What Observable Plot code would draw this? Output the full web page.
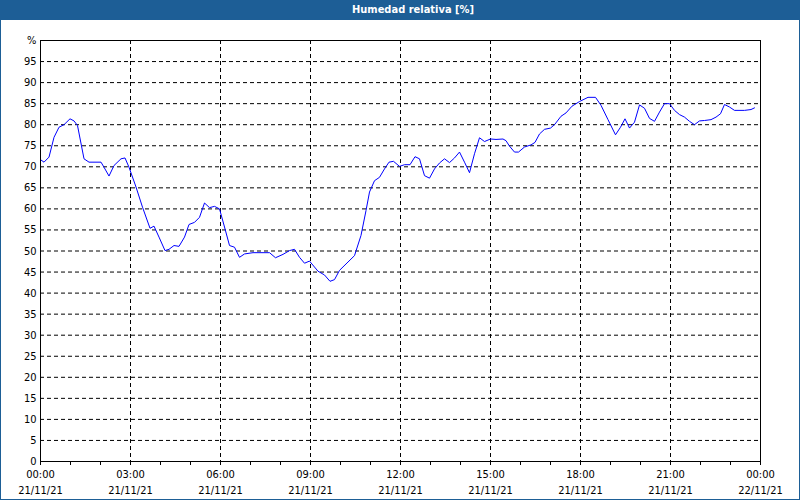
<!DOCTYPE html>
<html>
<head>
<meta charset="utf-8">
<script src="https://cdn.jsdelivr.net/npm/d3@7"></script>
<script src="https://cdn.jsdelivr.net/npm/@observablehq/plot@0.6"></script>
<style>
  html, body { margin: 0; padding: 0; background: #fff; }
  #wrap { position: relative; width: 800px; height: 500px; overflow: hidden; background: #fff; }
  #title { position: absolute; left: 0; top: 0; width: 800px; height: 20px; background: #1d5e96;
    color: #fff; font: bold 11px "DejaVu Sans Condensed", "DejaVu Sans", sans-serif;
    line-height: 20px; text-align: center; text-indent: 26px; }
  #chart { position: absolute; left: 0; top: 20px; }
  #border { position: absolute; left: 0; top: 20px; width: 800px; height: 480px; box-sizing: border-box;
    border: 1px solid #1d5e96; border-top: none; pointer-events: none; }
</style>
</head>
<body>
<div id="wrap">
  <div id="title">Humedad relativa [%]</div>
  <div id="chart"></div>
  <div id="border"></div>
</div>
<script>
// Time in minutes after 00:00 on 21/11/21
const minutes = [0,7,17,27,37,47,59,67,74,87,97,121,127,137,147,161,169,177,191,204,219,227,237,249,257,267,277,
  288,297,308,318,328,338,348,358,368,378,388,398,408,425,458,470,485,498,508,518,528,538,555,568,579,588,598,
  628,641,651,658,668,678,688,697,706,718,728,739,749,758,768,778,788,798,808,818,828,838,848,858,
  868,878,888,900,911,925,931,938,948,956,968,981,989,998,1008,1020,1028,1041,1051,1063,1078,1095,1110,1121,1135,
  1150,1160,1169,1178,1188,1198,1208,1218,1228,1238,1248,1258,1268,1278,1288,1298,1308,1318,1328,1341,1351,1360,
  1368,1378,1388,1408,1421,1428];
// Relative humidity (%)
const humidity = [71.7,71.1,72.3,77.0,79.4,80.0,81.4,80.9,79.8,71.9,71.1,71.1,69.9,67.8,70.3,71.9,72.1,69.9,65.2,60.4,55.4,55.9,53.3,50.1,50.4,51.3,51.1,
  53.3,56.3,56.8,58.0,61.4,60.3,60.6,60.0,55.7,51.3,50.9,48.5,49.3,49.6,49.6,48.4,49.2,50.1,50.4,48.5,47.1,47.6,45.2,44.3,42.8,43.2,45.4,
  48.9,53.7,59.6,64.0,66.7,67.5,69.5,71.1,71.3,70.1,70.5,70.5,72.4,71.9,67.9,67.3,69.5,70.9,71.9,71.0,72.1,73.5,71.1,68.6,
  73.1,76.9,76.0,76.6,76.5,76.6,76.2,74.9,73.5,73.5,74.7,75.2,75.8,77.8,78.9,79.2,80.0,82.0,82.8,84.4,85.5,86.5,86.5,84.6,81.2,
  77.6,79.4,81.4,79.2,80.6,84.7,83.9,81.5,80.8,83.0,85.0,85.0,83.4,82.4,81.8,80.8,80.0,80.9,81.0,81.2,81.8,82.6,
  84.8,84.2,83.4,83.4,83.6,84.0];

const yTickValues = [0,5,10,15,20,25,30,35,40,45,50,55,60,65,70,75,80,85,90,95,100];
const yTickLabels = ["0","5","10","15","20","25","30","35","40","45","50","55","60","65","70","75","80","85","90","95","%"];
const yGrid = [5,10,15,20,25,30,35,40,45,50,55,60,65,70,75,80,85,90,95];
const xTickMinutes = [0,180,360,540,720,900,1080,1260,1440];
const hourLabels = ["00:00","03:00","06:00","09:00","12:00","15:00","18:00","21:00","00:00"];
const dateLabels = ["21/11/21","21/11/21","21/11/21","21/11/21","21/11/21","21/11/21","21/11/21","21/11/21","22/11/21"];
const xGrid = [180,360,540,720,900,1080,1260];
const minorTicks = [0,60,120,180,240,300,360,420,480,540,600,660,720,780,840,900,960,1020,1080,1140,1200,1260,1320,1380,1440];

const data = minutes.map((m, i) => ({m, h: humidity[i]}));
const font = '"DejaVu Sans Condensed", "DejaVu Sans", sans-serif';

const chart = Plot.plot({
  width: 800,
  height: 480,
  marginLeft: 40,
  marginRight: 40,
  marginTop: 20,
  marginBottom: 39,
  x: {type: "linear", domain: [0, 1440], axis: null, label: null},
  y: {type: "linear", domain: [0, 100], axis: null, label: null},
  style: {fontFamily: font, fontSize: "11px", color: "#000", background: "#fff", overflow: "visible"},
  marks: [
    Plot.gridY(yGrid, {stroke: "#000", strokeOpacity: 1, strokeDasharray: "4,3"}),
    Plot.gridX(xGrid, {stroke: "#000", strokeOpacity: 1, strokeDasharray: "4,3"}),
    Plot.line(data, {x: "m", y: "h", stroke: "#0000ff", strokeWidth: 1}),
    Plot.frame({stroke: "#000"}),
    Plot.axisX(minorTicks, {tickSize: 4, tickFormat: () => "", label: null, stroke: "#000"}),
    Plot.text(hourLabels, {x: (d, i) => xTickMinutes[i], y: () => 0, text: d => d, dy: 13, fill: "#000"}),
    Plot.text(dateLabels, {x: (d, i) => xTickMinutes[i], y: () => 0, text: d => d, dy: 29, fill: "#000"}),
    Plot.text(yTickLabels, {x: () => 0, y: (d, i) => yTickValues[i], text: d => d, dx: -4, textAnchor: "end", fill: "#000"})
  ]
});
document.getElementById("chart").appendChild(chart);
</script>
</body>
</html>
